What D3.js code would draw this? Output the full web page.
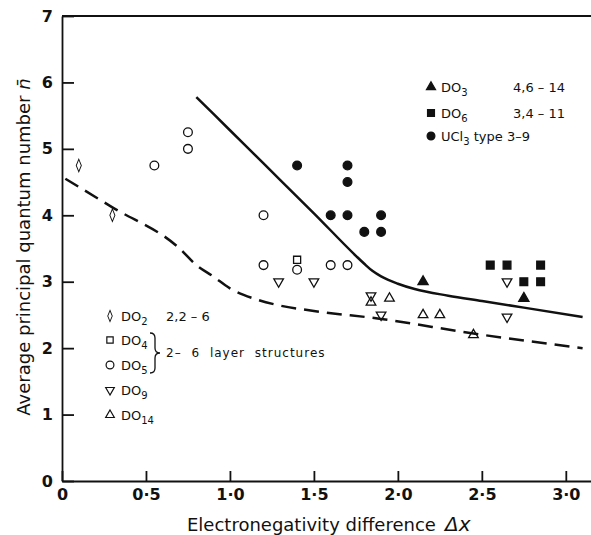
<!DOCTYPE html>
<html>
<head>
<meta charset="utf-8">
<script src="https://cdn.jsdelivr.net/npm/d3@7"></script>
<style>
  body { margin: 0; background: #fff; }
  text { font-family: "DejaVu Sans", sans-serif; fill: #111; }
</style>
</head>
<body>
<div id="chart"></div>
<script>
// tick values and labels
var xTicks = [0, 0.5, 1, 1.5, 2, 2.5, 3];
var xTickLabels = ["0", "0·5", "1·0", "1·5", "2·0", "2·5", "3·0"];
var yTicks = [0, 1, 2, 3, 4, 5, 6, 7];

// structure types  [electronegativity difference, average n]
var do2  = [[0.10, 4.75], [0.30, 4.0]];
var do4  = [[1.40, 3.33]];
var do5  = [[0.55, 4.75], [0.75, 5.0], [0.75, 5.25], [1.20, 4.0], [1.20, 3.25],
            [1.40, 3.18], [1.60, 3.25], [1.70, 3.25]];
var do9  = [[1.29, 3.0], [1.50, 3.0], [1.84, 2.79], [1.90, 2.5], [2.65, 3.0], [2.65, 2.47]];
var do14 = [[1.84, 2.69], [1.95, 2.75], [2.15, 2.5], [2.25, 2.5], [2.45, 2.2]];
var do3  = [[2.15, 3.0], [2.75, 2.75]];
var do6  = [[2.55, 3.25], [2.65, 3.25], [2.85, 3.25], [2.75, 3.0], [2.85, 3.0]];
var ucl3 = [[1.40, 4.75], [1.70, 4.75], [1.70, 4.5], [1.60, 4.0], [1.70, 4.0],
            [1.90, 4.0], [1.80, 3.75], [1.90, 3.75]];

// boundary curves
var upperLine = [[0.80, 5.78], [1.0, 5.28], [1.2, 4.78], [1.5, 4.03], [1.75, 3.39],
                 [1.8, 3.27], [1.85, 3.16], [1.9, 3.08], [2.0, 2.97], [2.1, 2.89],
                 [2.3, 2.79], [2.5, 2.71], [2.75, 2.61], [3.1, 2.47]];
var lowerLine = [[0.02, 4.55], [0.3, 4.12], [0.7, 3.5], [0.8, 3.25], [0.9, 3.08],
                 [1.0, 2.9], [1.15, 2.74], [1.3, 2.64], [1.5, 2.56], [1.9, 2.44],
                 [2.45, 2.22], [3.1, 2.0]];

var width = 591;
var height = 535;

var svg = d3.select('#chart')
            .append('svg')
            .attr('width', width)
            .attr('height', height);

var xScale = d3.scaleLinear().domain([0, 3.15]).range([62, 591]);
var yScale = d3.scaleLinear().domain([0, 7]).range([481, 16]);

// axes
var xAxis = d3.axisBottom(xScale)
              .tickValues(xTicks)
              .tickFormat(function(d, i){ return xTickLabels[i]; })
              .tickSize(-10)
              .tickSizeOuter(0)
              .tickPadding(8);
var yAxis = d3.axisLeft(yScale)
              .tickValues(yTicks)
              .tickFormat(d3.format('d'))
              .tickSize(-12)
              .tickSizeOuter(0)
              .tickPadding(9);

var gx = svg.append('g')
            .attr('transform', 'translate(0,' + yScale(0) + ')')
            .call(xAxis);
var gy = svg.append('g')
            .attr('transform', 'translate(' + xScale(0) + ',0)')
            .call(yAxis);

[gx, gy].forEach(function(g){
  g.selectAll('path, line').attr('stroke', '#111').attr('stroke-width', 1.8);
  g.selectAll('text').style('font-size', '16px').style('font-weight', 'bold').attr('fill', '#111');
});

// top frame line
svg.append('line')
   .attr('x1', xScale(0)).attr('x2', xScale(3.15))
   .attr('y1', yScale(7)).attr('y2', yScale(7))
   .attr('stroke', '#111').attr('stroke-width', 1.8);

// curves
var line = d3.line()
             .x(function(d){ return xScale(d[0]); })
             .y(function(d){ return yScale(d[1]); })
             .curve(d3.curveMonotoneX);

svg.append('path').datum(upperLine)
   .attr('d', line).attr('fill', 'none')
   .attr('stroke', '#111').attr('stroke-width', 2.5);
svg.append('path').datum(lowerLine)
   .attr('d', line).attr('fill', 'none')
   .attr('stroke', '#111').attr('stroke-width', 2.5)
   .attr('stroke-dasharray', '15,8');

// markers
var series = [
  {data: do2,  shape: d3.symbolDiamond,  size: 45, fill: 'none', rot: 0, sx: 0.7},
  {data: do4,  shape: d3.symbolSquare,   size: 50, fill: 'none', rot: 0, sx: 1},
  {data: do5,  shape: d3.symbolCircle,   size: 60, fill: 'none', rot: 0, sx: 1},
  {data: do9,  shape: d3.symbolTriangle, size: 40, fill: 'none', rot: 180, sx: 1},
  {data: do14, shape: d3.symbolTriangle, size: 40, fill: 'none', rot: 0, sx: 1},
  {data: do3,  shape: d3.symbolTriangle, size: 45, fill: '#111', rot: 0, sx: 1},
  {data: do6,  shape: d3.symbolSquare,   size: 60, fill: '#111', rot: 0, sx: 1},
  {data: ucl3, shape: d3.symbolCircle,   size: 60, fill: '#111', rot: 0, sx: 1}
];

series.forEach(function(s){
  svg.append('g').selectAll('path')
     .data(s.data)
     .enter().append('path')
     .attr('d', d3.symbol().type(s.shape).size(s.size))
     .attr('transform', function(d){
       return 'translate(' + xScale(d[0]) + ',' + yScale(d[1]) + ') rotate(' + s.rot + ') scale(' + s.sx + ',1)';
     })
     .attr('fill', s.fill)
     .attr('stroke', '#111')
     .attr('stroke-width', 1.3);
});

// legend helpers
function legendSymbol(x, y, s){
  svg.append('path')
     .attr('d', d3.symbol().type(s.shape).size(s.size * 0.8))
     .attr('transform', 'translate(' + x + ',' + y + ') rotate(' + s.rot + ') scale(' + s.sx + ',1)')
     .attr('fill', s.fill)
     .attr('stroke', '#111')
     .attr('stroke-width', 1.2);
}
function formula(x, y, main, sub, extra){
  var t = svg.append('text').attr('x', x).attr('y', y).style('font-size', '13px');
  t.append('tspan').text(main);
  t.append('tspan').attr('dy', 4).style('font-size', '10px').text(sub);
  if (extra) t.append('tspan').attr('dy', -4).text(extra);
  return t;
}

// top-right legend
var trRows = [
  {s: series[5], main: 'DO', sub: '3', extra: null, range: '4,6 – 14', y: 92},
  {s: series[6], main: 'DO', sub: '6', extra: null, range: '3,4 – 11', y: 118},
  {s: series[7], main: 'UCl', sub: '3', extra: ' type', range: '3–9', y: 141}
];
trRows.forEach(function(r){
  legendSymbol(431, r.y - 5, r.s);
  formula(441, r.y, r.main, r.sub, r.extra);
  svg.append('text').attr('x', r.extra ? 507 : 513).attr('y', r.y)
     .style('font-size', '13px').text(r.range);
});

// bottom-left legend
var blRows = [
  {s: series[0], sub: '2', y: 321},
  {s: series[1], sub: '4', y: 345},
  {s: series[2], sub: '5', y: 370},
  {s: series[3], sub: '9', y: 395},
  {s: series[4], sub: '14', y: 420}
];
blRows.forEach(function(r){
  legendSymbol(110, r.y - 5, r.s);
  formula(121, r.y, 'DO', r.sub, null);
});
svg.append('text').attr('x', 166).attr('y', 321).style('font-size', '13px').text('2,2 – 6');
svg.append('path')
   .attr('d', 'M150,333 Q155,333 155,338 L155,348 Q155,353 160,353 Q155,353 155,358 L155,368 Q155,373 150,373')
   .attr('fill', 'none').attr('stroke', '#111').attr('stroke-width', 1.3);
svg.append('text').attr('x', 166).attr('y', 357).style('font-size', '12px')
   .style('letter-spacing', '1px').style('word-spacing', '5px').text('2– 6 layer structures');

// axis titles
var xt = svg.append('text')
            .attr('x', 187).attr('y', 531)
            .style('font-size', '18px');
xt.append('tspan').text('Electronegativity difference');
xt.append('tspan').attr('x', 445).style('font-style', 'italic').style('font-size', '20px').text('Δx');

var yt = svg.append('text')
            .attr('transform', 'translate(30,247) rotate(-90)')
            .attr('text-anchor', 'middle')
            .style('font-size', '18px');
yt.append('tspan').text('Average principal quantum number ');
yt.append('tspan').style('font-style', 'italic').text('n\u0304');
</script>
</body>
</html>
